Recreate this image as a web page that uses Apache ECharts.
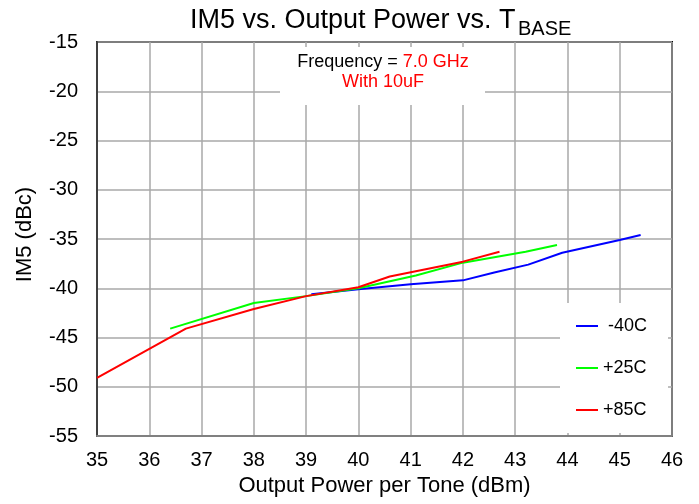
<!DOCTYPE html>
<html>
<head>
<meta charset="utf-8">
<script src="https://cdn.jsdelivr.net/npm/echarts@6/dist/echarts.min.js"></script>
<style>
html,body{margin:0;padding:0;background:#fff;}
#chart{width:699px;height:504px;}
</style>
</head>
<body>
<div id="chart"></div>
<script>
// ---- data ----
var seriesNames = ['-40C', '+25C', '+85C'];
var seriesColors = ['#0000ff', '#00ff00', '#ff0000'];

var m40X = [39.1, 40.0, 41.0, 42.0, 42.6, 43.25, 43.9, 45.0, 45.4];
var m40Y = [-40.6, -40.1, -39.6, -39.2, -38.4, -37.6, -36.4, -35.1, -34.6];

var p25X = [36.4, 38.0, 39.0, 40.0, 41.1, 42.0, 43.2, 43.8];
var p25Y = [-44.1, -41.5, -40.8, -40.0, -38.7, -37.4, -36.3, -35.6];

var p85X = [35.0, 36.7, 38.0, 39.0, 40.0, 40.6, 42.0, 42.7];
var p85Y = [-49.1, -44.1, -42.1, -40.8, -39.9, -38.8, -37.3, -36.3];

var xTicks = [35, 36, 37, 38, 39, 40, 41, 42, 43, 44, 45, 46];
var yTicks = [-55, -50, -45, -40, -35, -30, -25, -20, -15];

var titleMain = 'IM5 vs. Output Power vs. T';
var titleSub = 'BASE';
var noteLabel = 'Frequency = ';
var noteFreq = '7.0 GHz';
var noteCap = 'With 10uF';
var xName = 'Output Power per Tone (dBm)';
var yName = 'IM5 (dBc)';

function pairs(xs, ys) {
  return xs.map(function (x, i) { return [x, ys[i]]; });
}
var seriesData = [pairs(m40X, m40Y), pairs(p25X, p25Y), pairs(p85X, p85Y)];

var FONT = 'Liberation Sans, Arial, sans-serif';

var chart = echarts.init(document.getElementById('chart'), null, {renderer: 'canvas'});
chart.setOption({
  animation: false,
  backgroundColor: '#ffffff',
  textStyle: {fontFamily: FONT},
  grid: {
    left: 97, right: 27, top: 42, bottom: 68,
    show: true, borderColor: '#000000', borderWidth: 2, backgroundColor: '#ffffff'
  },
  xAxis: {
    type: 'value',
    min: xTicks[0], max: xTicks[xTicks.length - 1], interval: 1,
    name: xName, nameLocation: 'middle', nameGap: 34,
    nameTextStyle: {fontFamily: FONT, fontSize: 22, color: '#000'},
    axisLine: {show: true, onZero: false, lineStyle: {color: '#808080', width: 2}},
    axisTick: {show: false},
    axisLabel: {fontFamily: FONT, fontSize: 20, color: '#000', margin: 14},
    splitLine: {show: true, lineStyle: {color: '#a8a8a8', width: 1.5}}
  },
  yAxis: {
    type: 'value',
    min: yTicks[0], max: yTicks[yTicks.length - 1], interval: 5,
    name: yName, nameLocation: 'middle', nameGap: 61,
    nameTextStyle: {fontFamily: FONT, fontSize: 22, color: '#000', padding: [0, 0, 0, 9]},
    axisLine: {show: true, onZero: false, lineStyle: {color: '#404040', width: 2}},
    axisTick: {show: false},
    axisLabel: {fontFamily: FONT, fontSize: 20, color: '#000', margin: 19},
    splitLine: {show: true, lineStyle: {color: '#a8a8a8', width: 1.5}}
  },
  legend: {
    orient: 'vertical',
    left: 560, top: 303,
    padding: [13, 21, 13, 16],
    backgroundColor: '#ffffff',
    itemWidth: 22, itemHeight: 2, itemGap: 22,
    icon: 'rect',
    data: seriesNames,
    formatter: function (n) { return n.charAt(0) === '-' ? ' ' + n : n; },
    textStyle: {fontFamily: FONT, fontSize: 18, color: '#000', lineHeight: 20}
  },
  graphic: [
    {type: 'text', left: 190, top: 20.6 - 13.5, z: 10,
     style: {text: titleMain, font: '27px ' + FONT, fill: '#000'}},
    {type: 'text', left: 518, top: 29.5 - 10, z: 10,
     style: {text: titleSub, font: '20px ' + FONT, fill: '#000'}},
    {type: 'rect', shape: {x: 280, y: 47, width: 205, height: 58}, z: 20,
     style: {fill: '#ffffff'}},
    {type: 'text', x: 383, y: 62.5, z: 21,
     style: {
       text: '{k|' + noteLabel + '}{r|' + noteFreq + '}',
       align: 'center', verticalAlign: 'middle',
       rich: {
         k: {font: '18px ' + FONT, fill: '#000000'},
         r: {font: '18px ' + FONT, fill: '#ff0000'}
       }
     }},
    {type: 'text', x: 383, y: 82, z: 21,
     style: {text: noteCap, font: '18px ' + FONT, fill: '#ff0000', align: 'center', verticalAlign: 'middle'}}
  ],
  series: seriesNames.map(function (n, i) {
    return {
      name: n, type: 'line', data: seriesData[i],
      showSymbol: false, symbol: 'none',
      color: seriesColors[i],
      lineStyle: {color: seriesColors[i], width: 2},
      z: 3 + i
    };
  })
});
</script>
</body>
</html>
